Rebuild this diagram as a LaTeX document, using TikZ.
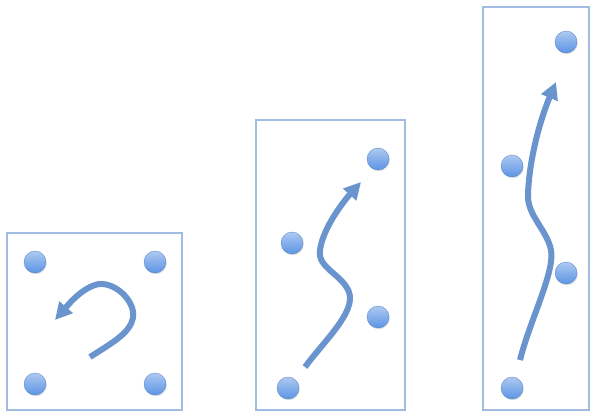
\documentclass[tikz,border=0pt]{standalone}
\usepackage{tikz}
\usetikzlibrary{arrows.meta, shadows}
\definecolor{framecolor}{RGB}{160,188,224}
\definecolor{dotcolor}{RGB}{92,148,228}
\definecolor{pathcolor}{RGB}{105,148,205}

\begin{document}
\begin{tikzpicture}[
    x=1pt, y=-1pt,
    frame/.style={draw=framecolor, line width=1.6pt},
    dot/.style={circle, minimum size=22pt, inner sep=0pt, top color=dotcolor!50!white, bottom color=dotcolor, draw=dotcolor!85!black, line width=0.3pt, drop shadow={opacity=0.25, shadow xshift=0.8pt, shadow yshift=-1.2pt}},
    move/.style={draw=pathcolor, line width=6pt, -{Triangle[length=17pt, width=17pt]}}
]
\useasboundingbox (0,0) rectangle (591,414);

% small square cell
\draw[frame] (7,233) rectangle (182,410);
\node[dot] (a1) at (35,262) {};
\node[dot] (a2) at (155,262) {};
\node[dot] (a3) at (35,384) {};
\node[dot] (a4) at (155,384) {};
\draw[move] (90,357) .. controls (112,343) and (130,333) .. (133,318)
    .. controls (136,300) and (112,279) .. (95,285)
    .. controls (80,290) and (68,305) .. (55,320);

% middle cell
\draw[frame] (256,120) rectangle (405,410);
\node[dot] (b1) at (378,159) {};
\node[dot] (b2) at (292,243) {};
\node[dot] (b3) at (378,317) {};
\node[dot] (b4) at (288,388) {};
\draw[move] (305,367) .. controls (325,340) and (356,312) .. (349,292)
    .. controls (342,274) and (317,268) .. (320,250)
    .. controls (323,228) and (343,202) .. (361,182);

% tall cell
\draw[frame] (483,7) rectangle (589,410);
\node[dot] (c1) at (566,42) {};
\node[dot] (c2) at (512,166) {};
\node[dot] (c3) at (566,273) {};
\node[dot] (c4) at (512,388) {};
\draw[move] (520,360) .. controls (530,320) and (555,272) .. (551,250)
    .. controls (547,230) and (527,215) .. (528,195)
    .. controls (529,160) and (540,120) .. (556,82);
\end{tikzpicture}
\end{document}
